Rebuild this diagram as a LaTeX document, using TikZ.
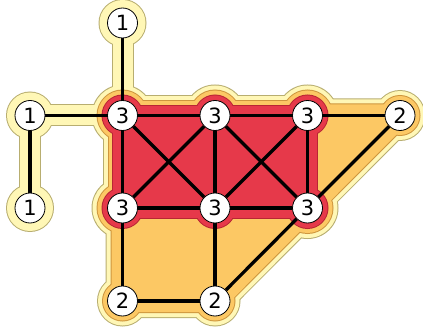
\documentclass[tikz,border=0pt]{standalone}
\usepackage{fontspec}
\setmainfont{DejaVu Sans}
\pgfdeclarelayer{halo}
\pgfdeclarelayer{bg}
\pgfsetlayers{halo,bg,main}
\definecolor{yel}{RGB}{255,247,182}
\definecolor{yelo}{RGB}{184,174,112}
\definecolor{ora}{RGB}{252,200,100}
\definecolor{orao}{RGB}{206,150,62}
\definecolor{red3}{RGB}{230,57,74}
\definecolor{redo}{RGB}{185,38,52}
\tikzset{
  vtx/.style={circle, draw=black, line width=0.8pt, fill=white, minimum size=30pt, inner sep=0pt, font=\fontsize{21}{21}\selectfont},
  link/.style={line width=3.3pt, black},
}
% #1 = extra (outline), #2 = colour
\newcommand\ylayer[2]{%
  \filldraw[#2, line width={38pt+2*#1pt}, line join=round] (a3.center) -- (c3.center) -- (g3.center) -- (e3.center) -- cycle;
  \filldraw[#2, line width={32pt+2*#1pt}, line join=round] (a3.center) -- (d2.center) -- (i2.center) -- (h2.center) -- cycle;
  \draw[#2, line width={20pt+2*#1pt}, line cap=round] (t1.center) -- (a3.center) (l1.center) -- (a3.center) (l1.center) -- (b1.center);
  \foreach \n in {a3,b3,c3,e3,f3,g3} {\fill[#2] (\n.center) circle[radius={30+#1}];}
  \foreach \n in {d2,h2,i2} {\fill[#2] (\n.center) circle[radius={24.5+#1}];}
  \foreach \n in {t1,l1,b1} {\fill[#2] (\n.center) circle[radius={23+#1}];}
}
\newcommand\olayer[2]{%
  \filldraw[#2, line width={28pt+2*#1pt}, line join=round] (a3.center) -- (c3.center) -- (g3.center) -- (e3.center) -- cycle;
  \filldraw[#2, line width={22pt+2*#1pt}, line join=round] (a3.center) -- (d2.center) -- (i2.center) -- (h2.center) -- cycle;
  \foreach \n in {a3,b3,c3,e3,f3,g3} {\fill[#2] (\n.center) circle[radius={25+#1}];}
  \foreach \n in {d2,h2,i2} {\fill[#2] (\n.center) circle[radius={19.5+#1}];}
}
\newcommand\rlayer[2]{%
  \filldraw[#2, line width={19pt+2*#1pt}, line join=round] (a3.center) -- (c3.center) -- (g3.center) -- (e3.center) -- cycle;
  \foreach \n in {a3,b3,c3,e3,f3,g3} {\fill[#2] (\n.center) circle[radius={20+#1}];}
}
\begin{document}
\begin{tikzpicture}[x=1pt,y=-1pt]
\useasboundingbox (0,0) rectangle (423,334);
\node[vtx] (t1) at (122.5,23) {1};
\node[vtx] (l1) at (30,115.5) {1};
\node[vtx] (b1) at (30,208) {1};
\node[vtx] (a3) at (122.5,115.5) {3};
\node[vtx] (b3) at (215,115.5) {3};
\node[vtx] (c3) at (307.5,115.5) {3};
\node[vtx] (d2) at (400,115.5) {2};
\node[vtx] (e3) at (122.5,208) {3};
\node[vtx] (f3) at (215,208) {3};
\node[vtx] (g3) at (307.5,208) {3};
\node[vtx] (h2) at (122.5,301) {2};
\node[vtx] (i2) at (215,301) {2};
\begin{pgfonlayer}{halo}
  \ylayer{1}{yelo}
  \ylayer{0}{yel}
  \olayer{1}{orao}
  \olayer{0}{ora}
  \rlayer{1}{redo}
  \rlayer{0}{red3}
\end{pgfonlayer}
\begin{pgfonlayer}{bg}
  \draw[link] (t1) -- (a3);
  \draw[link] (l1) -- (a3);
  \draw[link] (l1) -- (b1);
  \draw[link] (a3) -- (b3);
  \draw[link] (b3) -- (c3);
  \draw[link] (c3) -- (d2);
  \draw[link] (a3) -- (e3);
  \draw[link] (b3) -- (f3);
  \draw[link] (c3) -- (g3);
  \draw[link] (e3) -- (f3);
  \draw[link] (f3) -- (g3);
  \draw[link] (a3) -- (f3);
  \draw[link] (b3) -- (e3);
  \draw[link] (b3) -- (g3);
  \draw[link] (c3) -- (f3);
  \draw[link] (d2) -- (g3);
  \draw[link] (e3) -- (h2);
  \draw[link] (f3) -- (i2);
  \draw[link] (h2) -- (i2);
  \draw[link] (i2) -- (g3);
\end{pgfonlayer}
\end{tikzpicture}
\end{document}
